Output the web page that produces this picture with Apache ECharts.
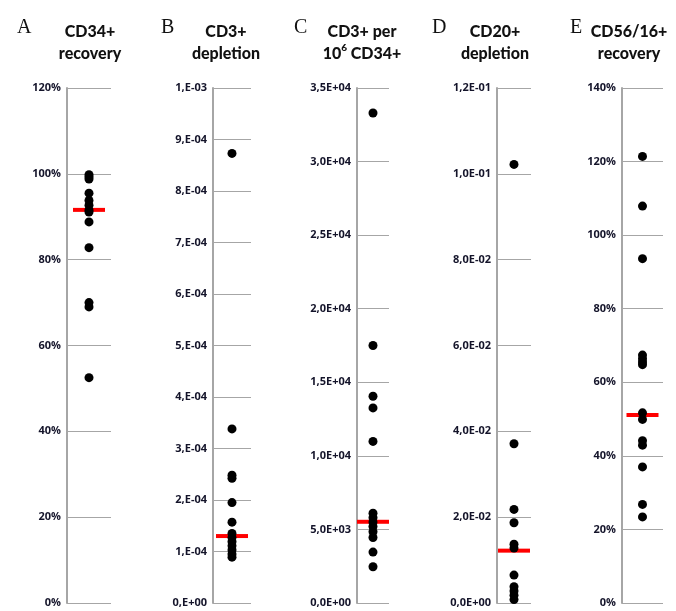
<!DOCTYPE html>
<html>
<head>
<meta charset="utf-8">
<script src="https://cdn.jsdelivr.net/npm/echarts@6/dist/echarts.min.js"></script>
<style>
html,body{margin:0;padding:0;background:#fff;}
#chart{width:676px;height:611px;}
</style>
</head>
<body>
<div id="chart"></div>
<script>
// ---- data ----
var panelLetters = ['A', 'B', 'C', 'D', 'E'];
var panelTitles = ['CD34+\nrecovery', 'CD3+\ndepletion', 'CD3+ per\n10{sup|6} CD34+', 'CD20+\ndepletion', 'CD56/16+\nrecovery'];

var cd34Recovery = [99.8, 99.3, 98.8, 95.5, 93.8, 92.7, 91.6, 91.1, 88.8, 82.8, 70.0, 69.0, 52.5];
var cd34RecoveryMedian = 91.6;
var cd3Depletion = [8.73e-4, 3.38e-4, 2.48e-4, 2.42e-4, 1.95e-4, 1.57e-4, 1.35e-4, 1.27e-4, 1.19e-4, 1.11e-4, 1.03e-4, 0.95e-4, 0.89e-4];
var cd3DepletionMedian = 1.3e-4;
var cd3PerCd34 = [33300, 17500, 14050, 13260, 10980, 6100, 5800, 5500, 5200, 4850, 4450, 3460, 2460];
var cd3PerCd34Median = 5520;
var cd20Depletion = [0.1022, 0.0371, 0.0218, 0.0187, 0.0137, 0.0128, 0.0065, 0.0038, 0.0028, 0.0018, 0.0008];
var cd20DepletionMedian = 0.0122;
var cd56Recovery = [121.4, 107.9, 93.6, 67.4, 66.4, 65.5, 64.8, 51.7, 49.9, 44.1, 42.9, 37.0, 26.8, 23.4];
var cd56RecoveryMedian = 51.1;

var ticksA = ['0%', '20%', '40%', '60%', '80%', '100%', '120%'];
var ticksB = ['0,E+00', '1,E-04', '2,E-04', '3,E-04', '4,E-04', '5,E-04', '6,E-04', '7,E-04', '8,E-04', '9,E-04', '1,E-03'];
var ticksC = ['0,0E+00', '5,0E+03', '1,0E+04', '1,5E+04', '2,0E+04', '2,5E+04', '3,0E+04', '3,5E+04'];
var ticksD = ['0,0E+00', '2,0E-02', '4,0E-02', '6,0E-02', '8,0E-02', '1,0E-01', '1,2E-01'];
var ticksE = ['0%', '20%', '40%', '60%', '80%', '100%', '120%', '140%'];

var axisIntervals = [20, 1e-4, 5000, 0.02, 20];
// ---- layout ----
var panels = [
  {vals: cd34Recovery, med: cd34RecoveryMedian, ticks: ticksA, left: 67, width: 44, titleX: 85, letterX: 12},
  {vals: cd3Depletion, med: cd3DepletionMedian, ticks: ticksB, left: 213, width: 38, titleX: 221, letterX: 156},
  {vals: cd3PerCd34, med: cd3PerCd34Median, ticks: ticksC, left: 357, width: 32, titleX: 357, letterX: 289},
  {vals: cd20Depletion, med: cd20DepletionMedian, ticks: ticksD, left: 497, width: 34, titleX: 490, letterX: 427},
  {vals: cd56Recovery, med: cd56RecoveryMedian, ticks: ticksE, left: 622, width: 41, titleX: 624, letterX: 565}
];

var grids = [], xAxes = [], yAxes = [], series = [], titles = [];
panels.forEach(function (p, i) {
  var interval = axisIntervals[i];
  var n = p.ticks.length - 1;
  grids.push({left: p.left, width: p.width, top: 88, bottom: 8});
  xAxes.push({gridIndex: i, type: 'value', min: 0, max: 2, show: false});
  yAxes.push({
    gridIndex: i, type: 'value', min: 0, max: n * interval, interval: interval,
    axisLine: {show: true, lineStyle: {color: '#a6a6a6', width: 2}},
    axisTick: {show: false},
    splitLine: {show: true, lineStyle: {color: '#a6a6a6', width: 1}},
    axisLabel: {
      margin: 6, color: '#14142a', fontSize: 11, fontWeight: 'bold', fontFamily: 'Open Sans',
      formatter: (function (ticks, iv) {
        return function (v) { return ticks[Math.round(v / iv)]; };
      })(p.ticks, interval)
    }
  });
  series.push({
    type: 'scatter', xAxisIndex: i, yAxisIndex: i, silent: true, z: 2,
    symbol: 'rect', symbolSize: [32, 4], itemStyle: {color: '#ff0000', opacity: 1},
    data: [[1, p.med]]
  });
  series.push({
    type: 'scatter', xAxisIndex: i, yAxisIndex: i, silent: true, z: 3,
    symbol: 'circle', symbolSize: 9, itemStyle: {color: '#000000', opacity: 1},
    data: p.vals.map(function (v) { return [1, v]; })
  });
  titles.push({
    text: panelTitles[i], left: p.titleX, top: 16, textAlign: 'center',
    textStyle: {
      fontFamily: 'Lato', fontWeight: 900, fontSize: 16, lineHeight: 22, color: '#111',
      rich: {sup: {fontFamily: 'Lato', fontWeight: 900, fontSize: 10, verticalAlign: 'top', lineHeight: 22, color: '#111', padding: [0, 0, 8, 0]}}
    }
  });
  titles.push({
    text: panelLetters[i], left: p.letterX, top: 13,
    textStyle: {fontFamily: 'Liberation Serif', fontWeight: 'normal', fontSize: 20, color: '#111'}
  });
});

var chart = echarts.init(document.getElementById('chart'), null, {renderer: 'canvas'});
chart.setOption({
  animation: false,
  backgroundColor: '#ffffff',
  title: titles,
  grid: grids,
  xAxis: xAxes,
  yAxis: yAxes,
  series: series
});
</script>
</body>
</html>
